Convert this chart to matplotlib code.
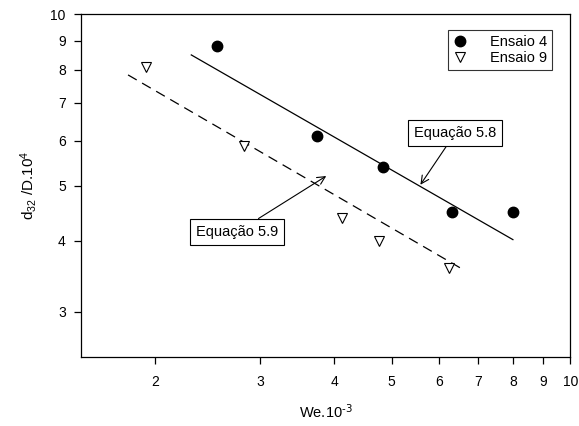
import matplotlib
matplotlib.use("Agg")
import matplotlib.pyplot as plt
from matplotlib.ticker import FixedLocator, FixedFormatter, NullLocator

plt.rcParams["font.family"] = ["Liberation Sans", "DejaVu Sans"]
plt.rcParams["mathtext.default"] = "regular"

# ── data ─────────────────────────────────────────────────────────────────────
we_e4 = [2.54, 3.75, 4.83, 6.31, 8.0]
d32_e4 = [8.80, 6.12, 5.40, 4.50, 4.50]

we_e9 = [1.93, 2.82, 4.13, 4.77, 6.25]
d32_e9 = [8.09, 5.87, 4.39, 4.00, 3.59]

# fitted power laws (endpoints of each line)
fit58_x = [2.30, 8.0]
fit58_y = [8.49, 4.02]
fit59_x = [1.80, 6.6]
fit59_y = [7.83, 3.56]

x_ticks = [2, 3, 4, 5, 6, 7, 8, 9, 10]
y_ticks = [3, 4, 5, 6, 7, 8, 9, 10]

# ── figure ───────────────────────────────────────────────────────────────────
fig = plt.figure(figsize=(5.79, 4.26), dpi=100)
ax = fig.add_axes([0.1399, 0.162, 0.8454, 0.804])

ax.plot(fit58_x, fit58_y, color="black", lw=0.9, zorder=2)
ax.plot(fit59_x, fit59_y, color="black", lw=0.9, dashes=(8, 5), zorder=2)

ax.plot(we_e4, d32_e4, "o", ms=7.5, color="black", label="Ensaio 4", zorder=3)
ax.plot(we_e9, d32_e9, "v", ms=7, mfc="white", mec="black", mew=0.8,
        label="Ensaio 9", zorder=3)

ax.set_xscale("log")
ax.set_yscale("log")
ax.set_xlim(1.5, 10)
ax.set_ylim(2.5, 10)

ax.xaxis.set_major_locator(FixedLocator(x_ticks))
ax.xaxis.set_major_formatter(FixedFormatter([str(t) for t in x_ticks]))
ax.xaxis.set_minor_locator(NullLocator())
ax.yaxis.set_major_locator(FixedLocator(y_ticks))
ax.yaxis.set_major_formatter(FixedFormatter([str(t) for t in y_ticks]))
ax.yaxis.set_minor_locator(NullLocator())

ax.tick_params(direction="out", length=5, width=0.9, labelsize=10, pad=6)
ax.tick_params(axis="x", pad=8)
for s in ax.spines.values():
    s.set_linewidth(0.9)

ax.set_xlabel(r"We.10$^{\text{-3}}$", fontsize=10.5, labelpad=10)
ax.set_ylabel("d$_{32}$ /D.10$^{4}$", fontsize=11, labelpad=8)

leg = ax.legend(loc="upper right", bbox_to_anchor=(0.962, 0.955), fontsize=10.5,
                frameon=True, fancybox=False, edgecolor="black",
                borderaxespad=0, handletextpad=1.5, borderpad=0.35,
                labelspacing=0.15, handlelength=1.0)
leg.get_frame().set_linewidth(0.8)

box = dict(boxstyle="square,pad=0.4", fc="white", ec="black", lw=0.8)
arrow = dict(arrowstyle="->", color="black", lw=0.8, shrinkA=0, shrinkB=0,
             mutation_scale=14)

ax.annotate("Equação 5.8", xy=(5.59, 5.02), xytext=(6.40, 6.19),
            ha="center", va="center", fontsize=10.5, bbox=box, arrowprops=arrow)
ax.annotate("Equação 5.9", xy=(3.88, 5.20), xytext=(2.75, 4.15),
            ha="center", va="center", fontsize=10.5, bbox=box, arrowprops=arrow)

fig.savefig("out.png", dpi=100)
